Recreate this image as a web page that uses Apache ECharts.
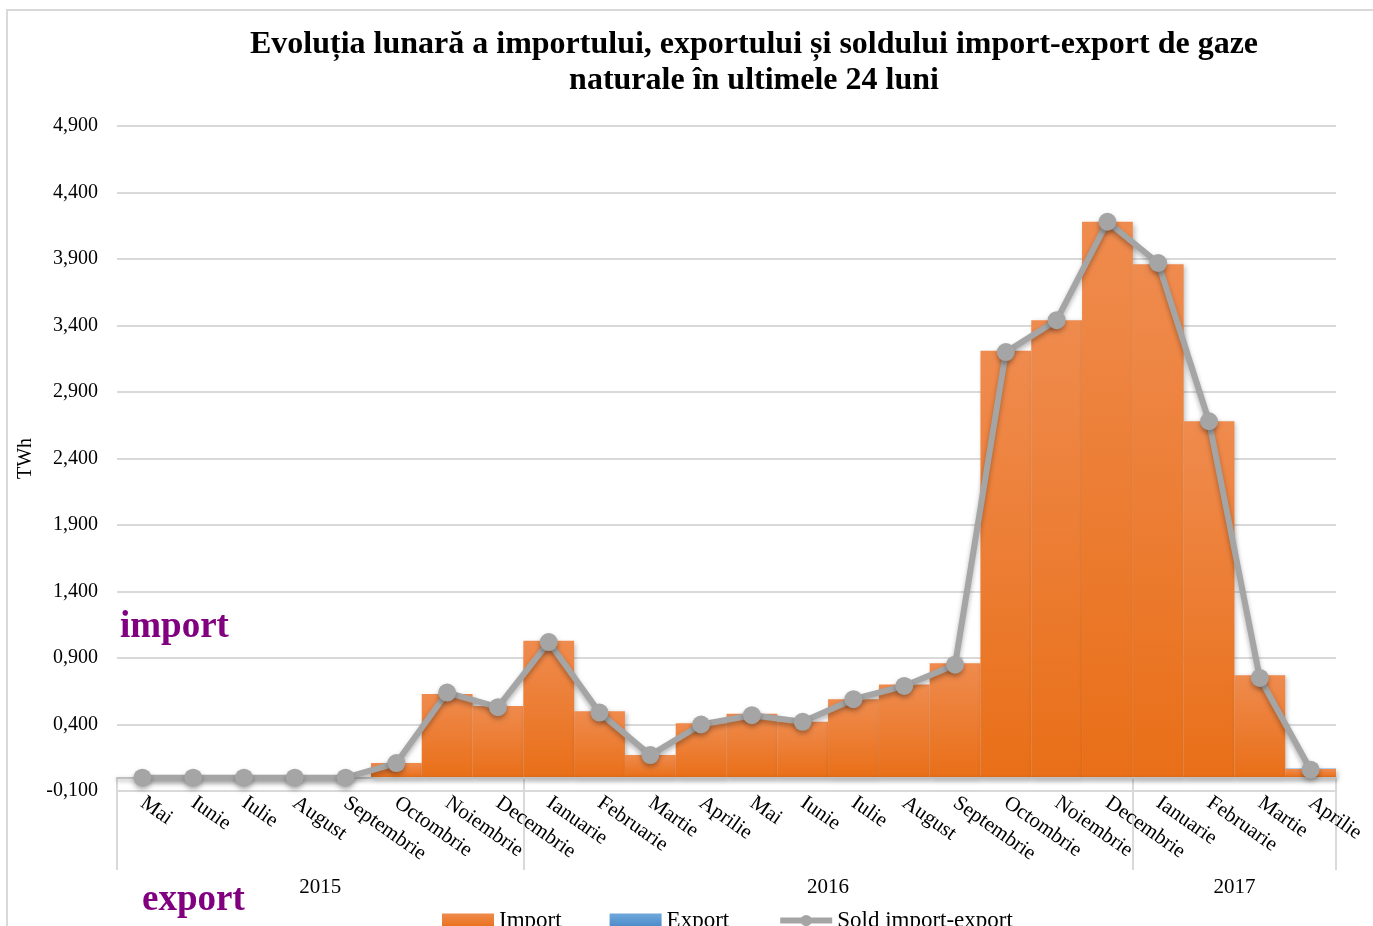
<!DOCTYPE html>
<html>
<head>
<meta charset="utf-8">
<script src="https://cdn.jsdelivr.net/npm/echarts@6/dist/echarts.min.js"></script>
<style>
html,body{margin:0;padding:0;background:#fff;}
#chart{width:1373px;height:926px;}
</style>
</head>
<body>
<div id="chart"></div>
<script>
// ---- data ----
const months = ['Mai','Iunie','Iulie','August','Septembrie','Octombrie','Noiembrie','Decembrie',
  'Ianuarie','Februarie','Martie','Aprilie','Mai','Iunie','Iulie','August','Septembrie','Octombrie','Noiembrie','Decembrie',
  'Ianuarie','Februarie','Martie','Aprilie'];
const years = ['2015','2016','2017'];
const yearMonthCounts = [8, 12, 4];
const importVals = [0, 0, 0, 0, 0, 0.11, 0.63, 0.54, 1.03, 0.50, 0.17, 0.41, 0.48, 0.42, 0.59, 0.70, 0.86, 3.21, 3.44, 4.18, 3.86, 2.68, 0.77, 0.065];
const exportVals = [0, 0, 0, 0, 0, 0, 0, 0, 0, 0, 0, 0, 0, 0, 0, 0, 0, 0, 0, 0, 0, 0, 0, 0.004];
const soldVals = [0, 0, 0, 0, 0, 0.11, 0.64, 0.53, 1.02, 0.49, 0.17, 0.40, 0.47, 0.42, 0.59, 0.69, 0.85, 3.20, 3.44, 4.18, 3.87, 2.68, 0.75, 0.06];
const yTicks = {min: -0.1, max: 4.9, interval: 0.5};

// year axis built on half-month steps
const halfSteps = [];
const boundaries = [0];
let pos = 0;
years.forEach((y, i) => {
  const n = yearMonthCounts[i] * 2;
  for (let k = 0; k < n; k++) halfSteps.push(k === n / 2 ? y : '');
  pos += n;
  boundaries.push(pos);
});
halfSteps.push('');
const yearCats = halfSteps.map((v, i) => v === '' ? ' '.repeat(i + 1) : v);

const serif = '"Liberation Serif", "Times New Roman", serif';
const chart = echarts.init(document.getElementById('chart'));

const barGradient = new echarts.graphic.LinearGradient(0, 0, 0, 1, [
  {offset: 0, color: '#EF8B4E'},
  {offset: 1, color: '#E96F18'}
]);
const blueGradient = new echarts.graphic.LinearGradient(0, 0, 0, 1, [
  {offset: 0, color: '#6FA8DC'},
  {offset: 1, color: '#4A89C8'}
]);

chart.setOption({
  animation: false,
  backgroundColor: '#fff',
  title: {
    text: 'Evoluția lunară a importului, exportului și soldului import-export de gaze\nnaturale în ultimele 24 luni',
    left: 754,
    top: 27,
    padding: 0,
    textAlign: 'center',
    textStyle: {fontFamily: serif, fontSize: 32, fontWeight: 'bold', color: '#000', lineHeight: 36}
  },
  graphic: [
    {type: 'rect', shape: {x: 7, y: 10, width: 1420, height: 1000}, style: {fill: 'none', stroke: '#D9D9D9', lineWidth: 2}, silent: true, z: -10},
    {type: 'text', x: 120, y: 627, style: {text: 'import', fontFamily: serif, fontSize: 37, fontWeight: 'bold', fill: '#800080', verticalAlign: 'middle'}},
    {type: 'text', x: 142, y: 900, style: {text: 'export', fontFamily: serif, fontSize: 37, fontWeight: 'bold', fill: '#800080', verticalAlign: 'middle'}}
  ],
  legend: {
    left: 437,
    top: 904,
    itemWidth: 52,
    itemHeight: 14,
    itemGap: 48,
    textStyle: {fontFamily: serif, fontSize: 23, color: '#000', padding: [0, 0, 0, 0]},
    data: [
      {name: 'Import', icon: 'rect'},
      {name: 'Export', icon: 'rect'},
      {name: 'Sold import-export', lineStyle: {width: 6, color: '#A5A5A5'}}
    ]
  },
  grid: {left: 117, right: 37, top: 126, bottom: 135, containLabel: false},
  xAxis: [
    {
      type: 'category',
      data: months,
      boundaryGap: true,
      axisLine: {onZero: true, lineStyle: {color: '#BFBFBF', width: 2, shadowColor: 'rgba(0,0,0,0.35)', shadowBlur: 4, shadowOffsetY: 2}},
      axisTick: {show: false},
      axisLabel: {interval: 0, rotate: -35, margin: 10, fontFamily: serif, fontSize: 21, color: '#000'},
      z: 5
    },
    {
      type: 'category',
      data: yearCats,
      boundaryGap: false,
      position: 'bottom',
      offset: -13,
      axisLine: {show: false, onZero: false},
      axisTick: {show: true, length: 92, interval: (i) => boundaries.indexOf(i) >= 0, lineStyle: {color: '#D9D9D9', width: 2}},
      axisLabel: {interval: (i, v) => v.trim() !== '', margin: 99, fontFamily: serif, fontSize: 21, color: '#000',
        formatter: (v) => v.trim()},
      splitLine: {show: false}
    }
  ],
  yAxis: {
    type: 'value',
    min: yTicks.min,
    max: yTicks.max,
    interval: yTicks.interval,
    name: 'TWh',
    nameLocation: 'middle',
    nameRotate: 90,
    nameGap: 68,
    nameTextStyle: {fontFamily: serif, fontSize: 20, color: '#000'},
    axisLine: {show: false},
    axisTick: {show: false},
    axisLabel: {margin: 19, fontFamily: serif, fontSize: 20, color: '#000',
      formatter: (v) => v.toFixed(3).replace('.', ',')},
    splitLine: {lineStyle: {color: '#D9D9D9', width: 2}}
  },
  series: [
    {
      name: 'Import', type: 'bar', stack: 'a', data: importVals,
      barCategoryGap: '0%',
      itemStyle: {color: barGradient, shadowColor: 'rgba(0,0,0,0.25)', shadowBlur: 5, shadowOffsetX: 2, shadowOffsetY: 2}
    },
    {
      name: 'Export', type: 'bar', stack: 'a', data: exportVals,
      barCategoryGap: '0%',
      itemStyle: {color: blueGradient}
    },
    {
      name: 'Sold import-export', type: 'line', data: soldVals,
      symbol: 'circle', symbolSize: 18,
      lineStyle: {color: '#A5A5A5', width: 6, shadowColor: 'rgba(0,0,0,0.3)', shadowBlur: 5, shadowOffsetY: 3},
      itemStyle: {color: '#A5A5A5', shadowColor: 'rgba(0,0,0,0.3)', shadowBlur: 5, shadowOffsetY: 3},
      z: 10
    }
  ]
});
</script>
</body>
</html>
